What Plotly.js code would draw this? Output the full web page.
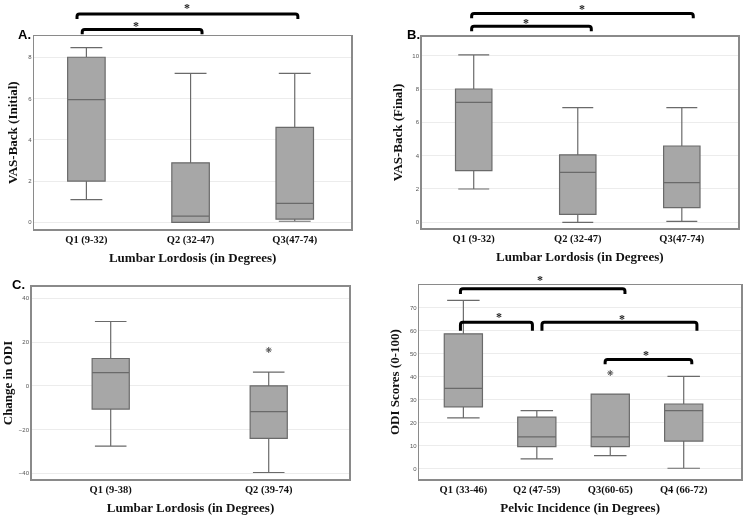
<!DOCTYPE html>
<html>
<head>
<meta charset="utf-8">
<script src="https://cdn.plot.ly/plotly-3.0.1.min.js"></script>
<style>
  html, body { margin: 0; padding: 0; background: #ffffff; }
  #chart { width: 745px; height: 519px; will-change: transform; }
</style>
</head>
<body>
<div id="chart"></div>
<script>
// ---- Panel A: VAS-Back (Initial) by lumbar lordosis tertile ----
const catsA = ['Q1 (9-32)', 'Q2 (32-47)', 'Q3(47-74)'];
const lowA  = [1.1, 0, 0.05];
const q1A   = [2, 0, 0.15];
const medA  = [5.95, 0.3, 0.92];
const q3A   = [8, 2.88, 4.6];
const highA = [8.47, 7.22, 7.22];

// ---- Panel B: VAS-Back (Final) by lumbar lordosis tertile ----
const catsB = ['Q1 (9-32)', 'Q2 (32-47)', 'Q3(47-74)'];
const lowB  = [2, 0, 0.05];
const q1B   = [3.1, 0.48, 0.88];
const medB  = [7.2, 3.0, 2.38];
const q3B   = [8, 4.05, 4.58];
const highB = [10.05, 6.88, 6.88];

// ---- Panel C: change in ODI by lumbar lordosis half ----
const catsC = ['Q1 (9-38)', 'Q2 (39-74)'];
const lowC  = [-27.5, -39.6];
const q1C   = [-10.6, -24];
const medC  = [6, -11.8];
const q3C   = [12.5, 0];
const highC = [29.4, 6.3];
const outCatsC = ['Q2 (39-74)'];
const outValsC = [16.4];

// ---- Panel D: ODI scores by pelvic incidence quartile ----
const catsD = ['Q1 (33-46)', 'Q2 (47-59)', 'Q3(60-65)', 'Q4 (66-72)'];
const lowD  = [22.2, 4.4, 5.8, 0.3];
const q1D   = [27, 9.7, 9.7, 12.1];
const medD  = [35, 13.9, 13.9, 25.3];
const q3D   = [58.7, 22.5, 32.5, 28.2];
const highD = [73.2, 25.3, 32.5, 40.2];
const outCatsD = ['Q3(60-65)'];
const outValsD = [41.7];

// Significant pairwise comparisons (category index pairs)
const sigA = [[0, 2], [0, 1]];
const sigB = [[0, 2], [0, 1]];
const sigD = [[0, 2], [0, 1], [1, 3], [2, 3]];

// ---------------------------------------------------------------
const W = 745, H = 519;
const SERIF = 'Liberation Serif, Times New Roman, serif';
const SANS = 'Liberation Sans, Arial, sans-serif';

// Subplot geometry (pixels) and axis ranges
const panels = {
  A: { xa: 'x',  ya: 'y',  px: [34.3, 351], py: [36, 229.3],  xr: [-0.5, 2.54], yr: [-0.34, 9.03], dtick: 2,
       cats: catsA, ytitle: 'VAS-Back (Initial)', xtitle: 'Lumbar Lordosis (in Degrees)', boxw: 0.36 },
  B: { xa: 'x2', ya: 'y2', px: [421.7, 738], py: [36.7, 228.3], xr: [-0.5, 2.54], yr: [-0.36, 11.14], dtick: 2,
       cats: catsB, ytitle: 'VAS-Back (Final)', xtitle: 'Lumbar Lordosis (in Degrees)', boxw: 0.35 },
  C: { xa: 'x3', ya: 'y3', px: [31.7, 349.3], py: [286.7, 479.3], xr: [-0.5, 1.51], yr: [-42.7, 45.3], dtick: 20,
       cats: catsC, ytitle: 'Change in ODI', xtitle: 'Lumbar Lordosis (in Degrees)', boxw: 0.235 },
  D: { xa: 'x4', ya: 'y4', px: [419.3, 741], py: [285, 479.3], xr: [-0.6, 3.78], yr: [-4.5, 79.9], dtick: 10,
       cats: catsD, ytitle: 'ODI Scores (0-100)', xtitle: 'Pelvic Incidence (in Degrees)', boxw: 0.52 }
};

// data -> paper conversion inside a panel
function paperX(p, v) {
  const pxv = p.px[0] + (v - p.xr[0]) / (p.xr[1] - p.xr[0]) * (p.px[1] - p.px[0]);
  return pxv / W;
}
function paperY(p, v) {
  const pyv = p.py[1] - (v - p.yr[0]) / (p.yr[1] - p.yr[0]) * (p.py[1] - p.py[0]);
  return 1 - pyv / H;
}

function boxTrace(p, cats, lo, q1, med, q3, hi) {
  return {
    type: 'box', xaxis: p.xa, yaxis: p.ya,
    x: cats, lowerfence: lo, q1: q1, median: med, q3: q3, upperfence: hi,
    width: p.boxw, whiskerwidth: 0.85,
    fillcolor: '#a7a7a7',
    line: { color: '#6a6a6a', width: 1.2 },
    boxpoints: false, hoverinfo: 'skip', showlegend: false
  };
}
function outlierTrace(p, cats, vals) {
  return {
    type: 'scatter', mode: 'markers', xaxis: p.xa, yaxis: p.ya,
    x: cats, y: vals,
    marker: { symbol: 'asterisk-open', size: 5, color: '#555', line: { color: '#555', width: 1 } },
    hoverinfo: 'skip', showlegend: false, cliponaxis: false
  };
}

const traces = [
  boxTrace(panels.A, catsA, lowA, q1A, medA, q3A, highA),
  boxTrace(panels.B, catsB, lowB, q1B, medB, q3B, highB),
  boxTrace(panels.C, catsC, lowC, q1C, medC, q3C, highC),
  outlierTrace(panels.C, outCatsC, outValsC),
  boxTrace(panels.D, catsD, lowD, q1D, medD, q3D, highD),
  outlierTrace(panels.D, outCatsD, outValsD)
];

// Bracket placement (in axis units): [left, right, top, legBottom, starX, starY]
const bracketGeom = {
  A: [[-0.09, 2.03, 10.1, 9.85, 0.97, 10.54], [-0.04, 1.11, 9.35, 9.12, 0.48, 9.68]],
  B: [[-0.02, 2.11, 12.53, 12.24, 1.04, 13.0], [-0.02, 1.13, 11.76, 11.46, 0.50, 12.14]],
  D: [[-0.04, 2.2, 78.3, 76.0, 1.05, 83.2], [-0.04, 0.94, 63.7, 60.0, 0.49, 67.5],
      [1.07, 3.18, 63.7, 60.0, 2.16, 66.3], [1.93, 3.11, 47.5, 45.5, 2.48, 50.7]]
};

const shapes = [];
const annotations = [];

function addBrackets(key, pairs) {
  const p = panels[key];
  pairs.forEach((pair, i) => {
    const g = bracketGeom[key][i];
    const xl = paperX(p, g[0]), xr = paperX(p, g[1]);
    const yt = paperY(p, g[2]), yb = paperY(p, g[3]);
    const rx = 2.5 / W, ry = Math.min(2.5 / H, (yt - yb) * 0.6);
    shapes.push({
      type: 'path', xref: 'paper', yref: 'paper',
      path: `M ${xl},${yb} L ${xl},${yt - ry} Q ${xl},${yt} ${xl + rx},${yt} ` +
            `L ${xr - rx},${yt} Q ${xr},${yt} ${xr},${yt - ry} L ${xr},${yb}`,
      line: { color: '#000', width: 3 }
    });
    annotations.push({
      xref: 'paper', yref: 'paper', x: paperX(p, g[4]), y: paperY(p, g[5]),
      text: '<b>*</b>', showarrow: false, xanchor: 'center', yanchor: 'middle', yshift: -3,
      font: { family: SERIF, size: 12, color: '#222' }
    });
  });
}
addBrackets('A', sigA);
addBrackets('B', sigB);
addBrackets('D', sigD);

// Panel letters
[['A.', 16, 34], ['B.', 405, 34], ['C.', 10, 284.5]].forEach(([t, x, y]) => {
  annotations.push({
    xref: 'paper', yref: 'paper', x: x / W, y: 1 - y / H, xanchor: 'left', yanchor: 'middle',
    text: '<b>' + t + '</b>', showarrow: false, font: { family: SANS, size: 13, color: '#000' }
  });
});

const layout = {
  width: W, height: H,
  margin: { l: 0, r: 0, t: 0, b: 0 },
  paper_bgcolor: '#ffffff', plot_bgcolor: '#ffffff',
  showlegend: false,
  shapes: shapes,
  annotations: annotations
};

const bold = (s) => '<b>' + s + '</b>';

Object.keys(panels).forEach((k) => {
  const p = panels[k];
  const xn = p.xa === 'x' ? 'xaxis' : 'xaxis' + p.xa.slice(1);
  const yn = p.ya === 'y' ? 'yaxis' : 'yaxis' + p.ya.slice(1);
  layout[xn] = {
    domain: [p.px[0] / W, p.px[1] / W], anchor: p.ya,
    type: 'category', range: p.xr, fixedrange: true, automargin: false,
    tickmode: 'array', tickvals: p.cats, ticktext: p.cats.map(bold),
    showgrid: false, zeroline: false,
    showline: true, mirror: true, linecolor: '#8a8a8a', linewidth: 1.5,
    ticks: '',
    tickfont: { family: SERIF, size: 10.5, color: '#111' },
    title: { text: bold(p.xtitle), standoff: 7, font: { family: SERIF, size: 13, color: '#111' } }
  };
  layout[yn] = {
    domain: [1 - p.py[1] / H, 1 - p.py[0] / H], anchor: p.xa,
    range: p.yr, tick0: 0, dtick: p.dtick, fixedrange: true, automargin: false,
    showgrid: true, gridcolor: '#ececec', gridwidth: 1, zeroline: false,
    showline: true, mirror: true, linecolor: '#8a8a8a', linewidth: 1.5,
    ticks: '',
    tickfont: { family: SANS, size: 6, color: '#555' },
    title: { text: bold(p.ytitle), standoff: 7, font: { family: SERIF, size: 13, color: '#111' } }
  };
});

Plotly.newPlot('chart', traces, layout, { staticPlot: true, displayModeBar: false });
</script>
</body>
</html>
